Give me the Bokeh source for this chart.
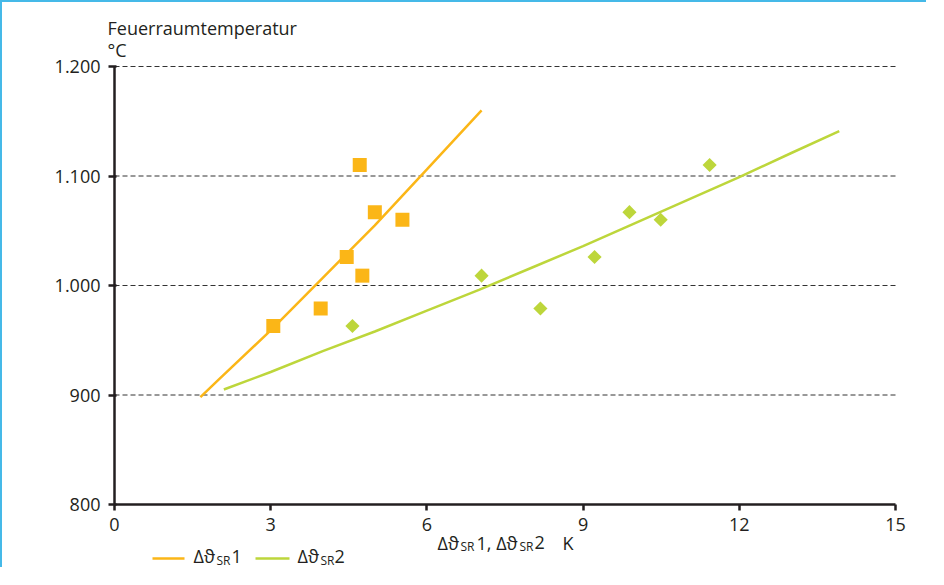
import numpy as np
from bokeh.plotting import figure
from bokeh.models import Range1d, FixedTicker, Label, LinearAxis
from bokeh.embed import file_html
from bokeh.resources import INLINE

# ---- data ----
temp = [963, 979, 1009, 1026, 1060, 1067, 1110]          # Feuerraumtemperatur in °C
dT1 = [3.05, 3.96, 4.76, 4.46, 5.53, 5.00, 4.71]          # Δϑ_SR1 in K
dT2 = [4.57, 8.18, 7.05, 9.22, 10.49, 9.89, 11.43]        # Δϑ_SR2 in K

fit1_x = [1.65, 2.0, 3.0, 4.0, 5.0, 6.0, 7.05]
fit1_y = [898, 914, 959, 1007, 1055, 1106, 1160]
fit2_x = [2.1, 3.0, 4.0, 5.0, 6.0, 7.0, 8.0, 9.0, 10.0, 11.0, 12.0, 13.0, 13.92]
fit2_y = [905, 921, 940, 958, 977, 996, 1016, 1036, 1057, 1078, 1099, 1121, 1141]

x_ticks = [0, 3, 6, 9, 12, 15]
y_ticks = [800, 900, 1000, 1100, 1200]
y_tick_labels = ["800", "900", "1.000", "1.100", "1.200"]

ORANGE = "#FBB617"
GREEN = "#BDD63B"
BLUE = "#45B9E8"
INK = "#231F20"
FONT = "Open Sans"
FS = "18px"
FS_SUB = "12px"

# ---- layout (picture pixels) ----
BORDER = 2
W, H = 926, 567                  # canvas size (element = canvas + border)
DY = -6                          # upward shift so the legend fits
L, R, T, B = 114, 895, 72 + DY, 510 + DY   # data area in picture pixels
kx = (R - L) / (x_ticks[-1] - x_ticks[0])
ky = (B - T) / (y_ticks[-1] - y_ticks[0])
x_start = x_ticks[0] - (L - BORDER) / kx
x_end = x_ticks[-1] + (W - (R - BORDER)) / kx
y_end = y_ticks[-1] + (T - BORDER) / ky
y_start = y_ticks[0] - (H - (B - BORDER)) / ky

def px(xp):
    return x_start + (xp - BORDER) / kx

def py(yp):
    return y_end - (yp + DY - BORDER) / ky

p = figure(width=W, height=H, output_backend="svg", toolbar_location=None, title=None,
           x_range=Range1d(x_start, x_end), y_range=Range1d(y_start, y_end),
           x_axis_location=None, y_axis_location=None, min_border=0)
p.styles = {"border-top": f"{BORDER}px solid {BLUE}", "border-left": f"{BORDER}px solid {BLUE}"}
p.outline_line_color = None
p.background_fill_color = "white"
p.border_fill_color = "white"
p.grid.visible = False

# horizontal dashed grid lines at the y ticks
p.segment(x0=x_ticks[0], x1=x_ticks[-1], y0=y_ticks[1:], y1=y_ticks[1:],
          line_color="#333333", line_dash="5 3", line_width=1)

# axes
xaxis = LinearAxis(fixed_location=y_ticks[0], bounds=(x_ticks[0], x_ticks[-1]),
                   ticker=FixedTicker(ticks=x_ticks))
yaxis = LinearAxis(fixed_location=x_ticks[0], bounds=(y_ticks[0], y_ticks[-1]),
                   ticker=FixedTicker(ticks=y_ticks))
for ax in (xaxis, yaxis):
    ax.axis_line_color = INK
    ax.axis_line_width = 2.5
    ax.major_tick_line_color = INK
    ax.major_tick_line_width = 2.5
    ax.minor_tick_line_color = None
    ax.major_label_text_font = FONT
    ax.major_label_text_font_size = FS
    ax.major_label_text_color = INK
    ax.major_tick_out = 6
    ax.major_tick_in = 0
yaxis.major_tick_in = 2
yaxis.major_label_overrides = {t: s for t, s in zip(y_ticks, y_tick_labels)}
yaxis.major_label_standoff = 8
xaxis.major_label_standoff = 7
p.add_layout(xaxis, "below")
p.add_layout(yaxis, "left")

# fit lines
p.line(fit1_x, fit1_y, line_color=ORANGE, line_width=2.5)
p.line(fit2_x, fit2_y, line_color=GREEN, line_width=2.5)

# measured points
p.scatter(dT1, temp, marker="square", size=14, fill_color=ORANGE, line_color=None)
p.scatter(dT2, temp, marker="square", size=10, angle=np.pi / 4, fill_color=GREEN, line_color=None)

def lab(xp, yp, text, size=FS):
    p.add_layout(Label(x=px(xp), y=py(yp), text=text, text_font=FONT, text_font_size=size,
                       text_color=INK, text_align="left", text_baseline="middle"))

# y axis title (two lines)
lab(107, 33, "Feuerraumtemperatur")
lab(107, 55.5, "°C")

# x axis label with subscripts
lab(437, 548, "Δϑ")
lab(460, 552, "SR", FS_SUB)
lab(476, 548, "1, Δϑ")
lab(519, 552, "SR", FS_SUB)
lab(534, 548, "2")
lab(562, 548, "K")

# legend
def leg_line(x0, x1, yp, color):
    p.line([px(x0), px(x1)], [py(yp)] * 2, line_color=color, line_width=2.5)

leg_line(152, 184, 564, ORANGE)
lab(193, 561.5, "Δϑ")
lab(216, 565.5, "SR", FS_SUB)
lab(231, 561.5, "1")
leg_line(255, 289, 564, GREEN)
lab(297, 561.5, "Δϑ")
lab(320, 565.5, "SR", FS_SUB)
lab(334, 561.5, "2")

open("out.html", "w").write(file_html(p, INLINE))
